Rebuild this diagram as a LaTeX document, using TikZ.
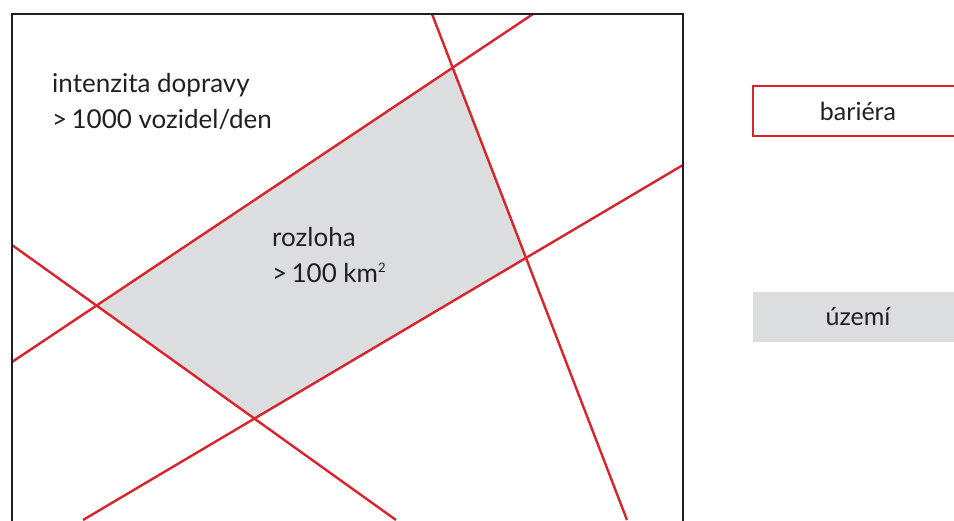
\documentclass[tikz,border=0pt]{standalone}
\usepackage{fontspec}
\setmainfont{Lato}
\usetikzlibrary{positioning}
\definecolor{barred}{RGB}{218,35,42}
\definecolor{areagray}{RGB}{220,221,223}
\definecolor{ink}{RGB}{35,31,32}
\newcommand{\sqsup}{\raisebox{.75ex}{\fontsize{13}{13}\selectfont 2}}

\begin{document}
\begin{tikzpicture}[x=1pt,y=-1pt,font=\fontsize{26}{35.5}\selectfont,text=ink,
  road/.style={barred,line width=2.4pt},
  legbox/.style={minimum width=210pt,minimum height=50pt,inner sep=0pt,font=\fontsize{25}{28}\selectfont}]
\useasboundingbox (0,0) rectangle (954,520);
\clip (0,0) rectangle (954,520);
% end points of the four barriers on the frame
\coordinate (a1) at (12,362); \coordinate (a2) at (533,14);
\coordinate (b1) at (432,14); \coordinate (b2) at (627,520);
\coordinate (c1) at (83,520); \coordinate (c2) at (683,165);
\coordinate (d1) at (12,245); \coordinate (d2) at (396,520);
% enclosed territory
\fill[areagray] (intersection of a1--a2 and d1--d2) -- (intersection of a1--a2 and b1--b2)
   -- (intersection of b1--b2 and c1--c2) -- (intersection of c1--c2 and d1--d2) -- cycle;
\foreach \p in {a,b,c,d}
   \draw[road] (\p1) -- (\p2);
% frame, open at the bottom
\draw[ink,line width=2.8pt] (12,530) -- (12,14) -- (683,14) -- (683,530);
\node (traffic) [anchor=base west,align=left,inner sep=0pt] at (52,128) {intenzita dopravy\\>\,1000 vozidel/den};
\node (size) [anchor=base west,align=left,inner sep=0pt] at (272,282) {rozloha\\>\,100 km\sqsup};
% legend
\node (barrier) [legbox,draw=barred,line width=2.4pt] at (858,111) {bariéra};
\node (territory) [legbox,fill=areagray] at (858,316.5) {území};
\end{tikzpicture}
\end{document}
